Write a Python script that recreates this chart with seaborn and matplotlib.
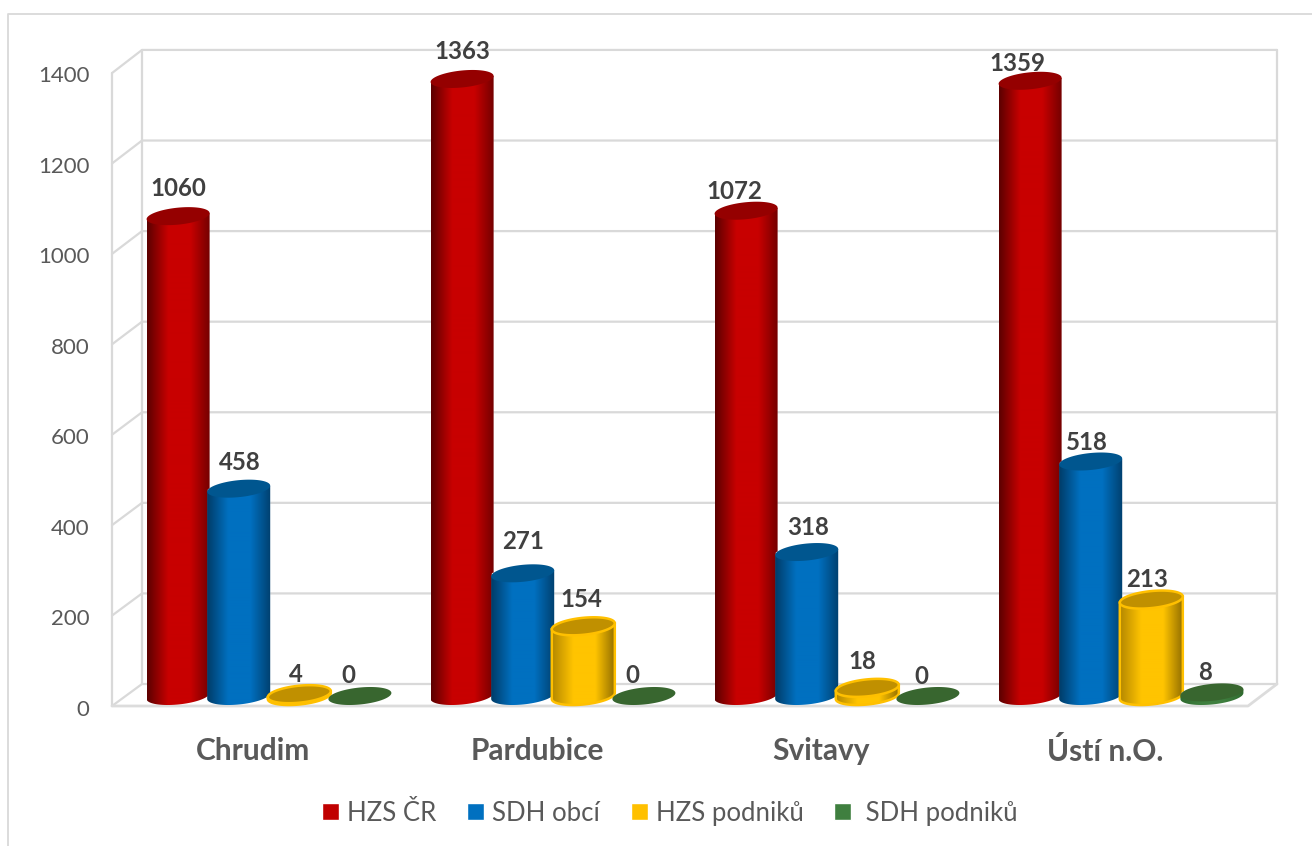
import numpy as np
import pandas as pd
import seaborn as sns
import matplotlib.pyplot as plt
from matplotlib.patches import Polygon
from matplotlib.colors import LinearSegmentedColormap
from matplotlib.transforms import ScaledTranslation

sns.set_theme(style="white")
plt.rcParams['font.family'] = ['Lato', 'DejaVu Sans']

# data
places = ["Chrudim", "Pardubice", "Svitavy", "Ústí n.O."]
series = ["HZS ČR", "SDH obcí", "HZS podniků", " SDH podniků"]
hzs_cr = [1060, 1363, 1072, 1359]
sdh_obci = [458, 271, 318, 518]
hzs_podniku = [4, 154, 18, 213]
sdh_podniku = [0, 0, 0, 8]
y_ticks = [0, 200, 400, 600, 800, 1000, 1200, 1400]

# label nudges in pixels, one row per series
label_dx = [[0, 0, -12, -13], [1, 0, 1, -4], [-3, -2, -5, -4], [-12, -12, -7, -7]]
label_dy = [[28, 27, 19, 17], [26, 32, 25, 19], [20, 27, 26, 20], [21, 21, 20, 20]]

main_colors = ["#C80000", "#0070C0", "#FFC400", "#3F7F3F"]
legend_colors = ["#C00000", "#0070C0", "#FFC000", "#3F7F3F"]
edge_colors = [("#5c0000", "#700000"), ("#003c68", "#00406e"), ("#b58800", "#8f6c00"), ("#2f6a2f", "#2f6a2f")]
top_colors = ["#950000", "#00568f", "#C09000", "#38662F"]

W, H = 1312, 846
BASE = 696
SCALE = 0.4527  # px per unit
ry = 8.5 / SCALE
tilt = 3 / SCALE

df = pd.DataFrame({
    "place": places * 4,
    "type": np.repeat(series, 4),
    "count": hzs_cr + sdh_obci + hzs_podniku + sdh_podniku,
})

fig = plt.figure(figsize=(W / 100, H / 100), dpi=100, facecolor="white")

# back walls drawn in pixel coordinates
wall = fig.add_axes([0, 0, 1, 1], zorder=0)
wall.set_xlim(0, W)
wall.set_ylim(H, 0)
wall.axis("off")
gray = "#D9D9D9"
wall.plot([8, 8, W], [H, 14, 14], color=gray, lw=1.3)
for v in y_ticks:
    back = 684 - v * 0.4529
    front = 706 - v * 0.4521
    wall.plot([112, 142, 1277], [front, back, back], color=gray, lw=1.6)
wall.plot([112, 112], [706, 73], color=gray, lw=1.6)
wall.plot([142, 142], [684, 50], color=gray, lw=1.6)
wall.plot([1277, 1277], [684, 50], color=gray, lw=1.6)
wall.plot([112, 1248, 1277], [706, 706, 684], color="#DCDCDC", lw=2)

low = -30
top = 1420
bottom_px = BASE - low * SCALE
top_px = BASE - top * SCALE
ax = fig.add_axes([127 / W, 1 - bottom_px / H, 1136 / W, (bottom_px - top_px) / H], zorder=1)
ax.patch.set_visible(False)

sns.barplot(data=df, x="place", y="count", hue="type", order=places, hue_order=series,
            palette=legend_colors, saturation=1, width=0.8535, gap=0, ax=ax)

t_low = np.linspace(np.pi, 2 * np.pi, 40)
t_all = np.linspace(0, 2 * np.pi, 80)
for s, cont in enumerate(ax.containers):
    cmap = LinearSegmentedColormap.from_list(
        "c", [(0, edge_colors[s][0]), (0.33, main_colors[s]), (0.68, main_colors[s]), (1, edge_colors[s][1])])
    grad = np.linspace(0, 1, 128).reshape(1, -1)
    lw_edge = 1.8 if s == 2 else 0
    for i, bar in enumerate(cont):
        cx = bar.get_x() + bar.get_width() / 2
        r = bar.get_width() / 2 * 1.04
        v = bar.get_height()
        z = 2 + s
        bar.set_zorder(z)
        if v > 0:
            xs = np.r_[cx + r * np.cos(t_low), cx + r, cx - r]
            ys = np.r_[ry * np.sin(t_low) + tilt * np.cos(t_low), v + tilt, v - tilt]
            body = Polygon(np.c_[xs, ys], closed=True, facecolor="none",
                           edgecolor=legend_colors[s], lw=lw_edge, zorder=z + 0.2)
            ax.add_patch(body)
            im = ax.imshow(grad, extent=(cx - r, cx + r, -ry - tilt, v + tilt), aspect="auto",
                           cmap=cmap, zorder=z + 0.1)
            im.set_clip_path(body)
        cap = Polygon(np.c_[cx + r * np.cos(t_all), v + ry * np.sin(t_all) + tilt * np.cos(t_all)],
                      closed=True, facecolor=top_colors[s], edgecolor=legend_colors[s],
                      lw=lw_edge, zorder=z + 0.3)
        ax.add_patch(cap)
        ax.annotate(str(int(v)), xy=(cx, v), xytext=(label_dx[s][i] * 0.72, label_dy[s][i] * 0.72),
                    textcoords="offset points", ha="center", va="center",
                    fontsize=17.3, fontweight="bold", color="#404040", zorder=20)

ax.set_xlim(-0.5, 3.5)
ax.set_ylim(low, top)
ax.set_yticks(y_ticks)
ax.set_xlabel("")
ax.set_ylabel("")
sns.despine(ax=ax, left=True, bottom=True, top=True, right=True)
ax.tick_params(axis="y", length=0, pad=27, labelsize=16, labelcolor="#595959")
ax.tick_params(axis="x", length=0, pad=19.5, labelsize=21.5, labelcolor="#595959")
for lab in ax.get_xticklabels():
    lab.set_fontweight("bold")
    lab.set_transform(lab.get_transform() + ScaledTranslation(-16 / 100, 0, fig.dpi_scale_trans))
for lab in ax.get_yticklabels():
    lab.set_transform(lab.get_transform() + ScaledTranslation(0, -12 / 100, fig.dpi_scale_trans))

sns.move_legend(ax, "center", bbox_to_anchor=(670 / W, 1 - 813 / H), bbox_transform=fig.transFigure,
                ncol=4, frameon=False, title=None, fontsize=18.5, labelcolor="#595959",
                handlelength=0.66, handleheight=0.66, handletextpad=0.31, columnspacing=1.2)

fig.savefig("out.png", dpi=100)
